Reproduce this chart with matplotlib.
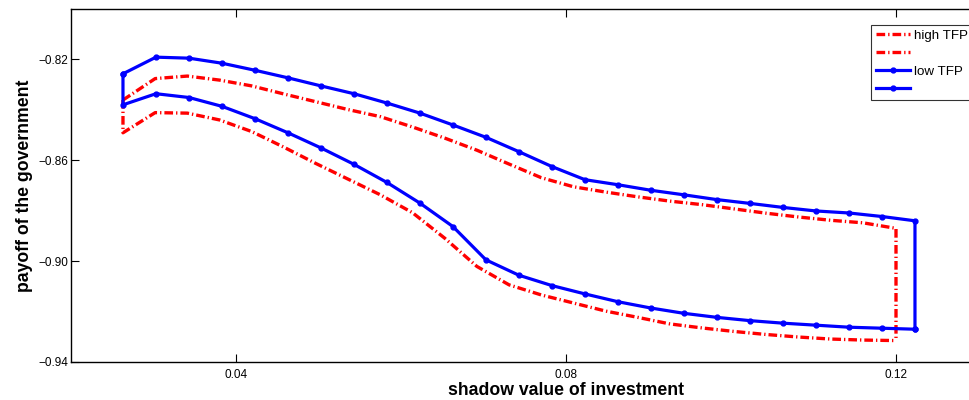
import matplotlib
matplotlib.use("Agg")
from matplotlib import pyplot as plt

plt.rcParams['font.family'] = ['Liberation Sans', 'DejaVu Sans']

# shadow value grid (x) for each TFP state
x_high = [0.0263, 0.0302, 0.0341, 0.0380, 0.0419, 0.0458, 0.0497, 0.0536, 0.0575,
          0.0614, 0.0653, 0.0692, 0.0731, 0.0770, 0.0809, 0.0848, 0.0887, 0.0926,
          0.0965, 0.1004, 0.1043, 0.1082, 0.1121, 0.1160, 0.1200]
x_low = [0.0263, 0.0303, 0.0343, 0.0383, 0.0423, 0.0463, 0.0503, 0.0543, 0.0583,
         0.0623, 0.0663, 0.0703, 0.0743, 0.0783, 0.0823, 0.0863, 0.0903, 0.0943,
         0.0983, 0.1023, 0.1063, 0.1103, 0.1143, 0.1183, 0.1223]

# payoff of the government, upper and lower bounds
high_upper = [-0.8361, -0.8276, -0.8266, -0.8282, -0.8305, -0.8337, -0.8368, -0.8399,
              -0.8427, -0.8468, -0.8512, -0.8560, -0.8615, -0.8669, -0.8705, -0.8726,
              -0.8745, -0.8762, -0.8776, -0.8793, -0.8810, -0.8825, -0.8838, -0.8848,
              -0.8870]
high_lower = [-0.8491, -0.8411, -0.8413, -0.8440, -0.8486, -0.8548, -0.8613, -0.8675,
              -0.8737, -0.8808, -0.8909, -0.9021, -0.9094, -0.9134, -0.9166, -0.9198,
              -0.9223, -0.9249, -0.9265, -0.9279, -0.9291, -0.9301, -0.9309, -0.9313,
              -0.9315]
low_upper = [-0.8257, -0.8191, -0.8195, -0.8215, -0.8243, -0.8273, -0.8305, -0.8336,
             -0.8373, -0.8413, -0.8460, -0.8509, -0.8566, -0.8625, -0.8677, -0.8697,
             -0.8719, -0.8737, -0.8756, -0.8771, -0.8787, -0.8801, -0.8809, -0.8823,
             -0.8840]
low_lower = [-0.8380, -0.8336, -0.8351, -0.8386, -0.8435, -0.8491, -0.8551, -0.8616,
             -0.8688, -0.8770, -0.8863, -0.8995, -0.9056, -0.9097, -0.9130, -0.9161,
             -0.9186, -0.9207, -0.9223, -0.9236, -0.9246, -0.9254, -0.9262, -0.9266,
             -0.9270]

labels = ['high TFP', '', 'low TFP', '']

fig = plt.figure(figsize=(9.69, 4.0), dpi=100)
ax = fig.add_axes([71 / 969, 1 - 362 / 400, (1061 - 71) / 969, 353 / 400])

dashdot = (0, (2.6, 0.9, 0.4, 0.9))

# each curve closes the loop with a vertical segment at one end
h1, = ax.plot(x_high + [x_high[-1]], high_upper + [high_lower[-1]],
              color='red', linestyle=dashdot, linewidth=2.4)
h2, = ax.plot([x_high[0]] + x_high, [high_upper[0]] + high_lower,
              color='red', linestyle=dashdot, linewidth=2.4)
h3, = ax.plot(x_low + [x_low[-1]], low_upper + [low_lower[-1]],
              color='blue', linestyle='-', linewidth=2.3, marker='.', markersize=7)
h4, = ax.plot([x_low[0]] + x_low, [low_upper[0]] + low_lower,
              color='blue', linestyle='-', linewidth=2.3, marker='.', markersize=7)

ax.set_xlim(0.02, 0.14)
ax.set_ylim(-0.94, -0.80)
ax.set_xticks([0.04, 0.08, 0.12])
ax.set_xticklabels(['0.04', '0.08', '0.12'])
ax.set_yticks([-0.94, -0.90, -0.86, -0.82])
ax.set_yticklabels(['\u22120.94', '\u22120.90', '\u22120.86', '\u22120.82'])
ax.tick_params(direction='in', length=6, width=0.8, labelsize=8.5, top=True, right=False)
ax.tick_params(axis='x', pad=5)
ax.tick_params(axis='y', pad=2)
ax.spines['right'].set_visible(False)
for s in ['left', 'top', 'bottom']:
    ax.spines[s].set_linewidth(1.0)

ax.set_xlabel('shadow value of investment', fontsize=12.7, fontweight='bold', labelpad=1)
ax.set_ylabel('payoff of the government', fontsize=12.7, fontweight='bold', labelpad=4)

leg = ax.legend([h1, h2, h3, h4], labels, loc='upper left',
                bbox_to_anchor=(871 / 969, 1 - 25 / 400), bbox_transform=fig.transFigure,
                fontsize=9.6, frameon=True, fancybox=False, edgecolor='black',
                handlelength=2.55, handletextpad=0.3, labelspacing=0.42, borderaxespad=0,
                borderpad=0.35)
leg.get_frame().set_linewidth(0.8)

fig.savefig('out.png', dpi=100)
